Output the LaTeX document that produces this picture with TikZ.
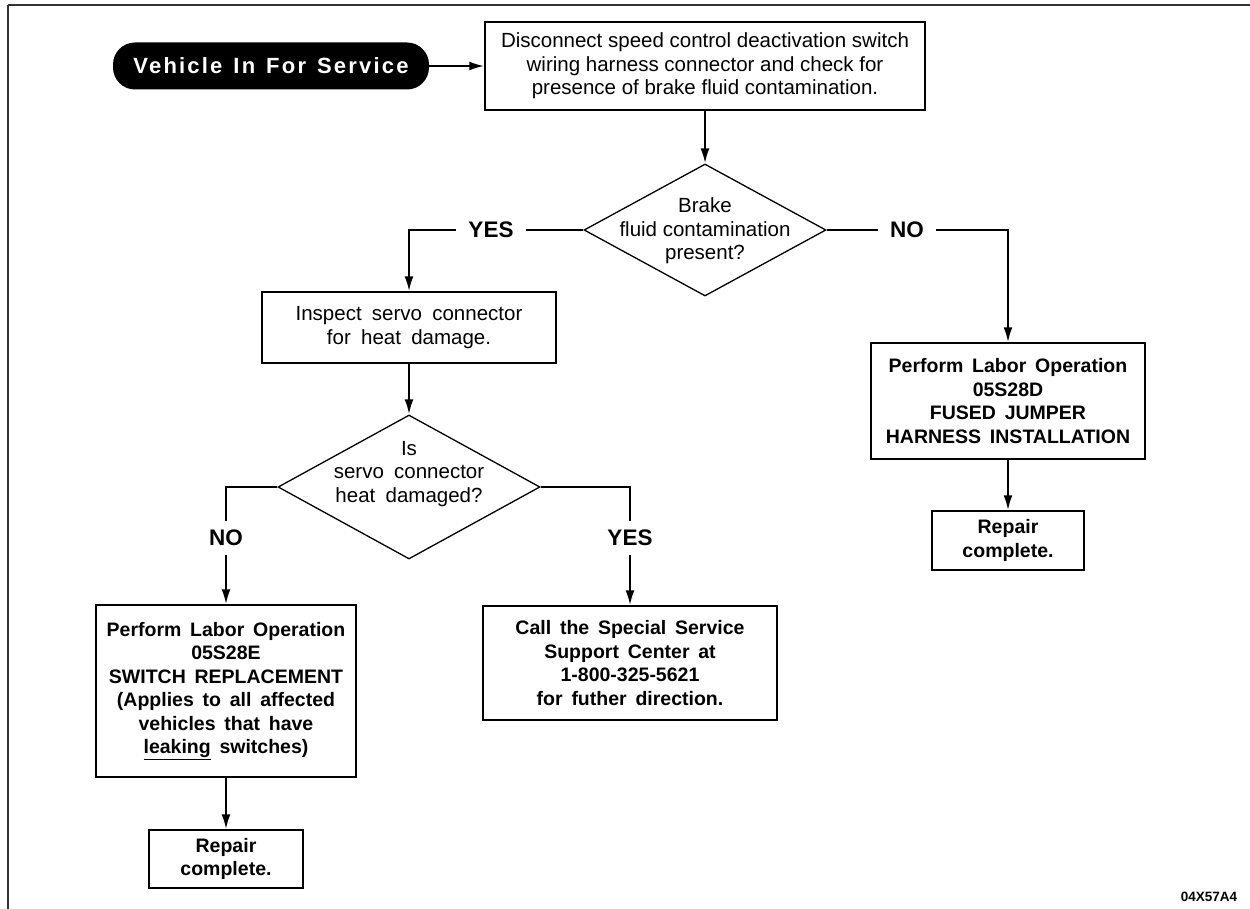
\documentclass[tikz,border=0pt]{standalone}
\usepackage{fontspec}
\setmainfont{Liberation Sans}
\newfontfamily\pillfont{Liberation Sans}[LetterSpace=10]
\usetikzlibrary{shapes.geometric,arrows.meta}
\newcommand\regf{\fontsize{20.5}{23.5}\selectfont}
\newcommand\widef{\fontsize{20.5}{23.5}\selectfont\spaceskip=0.5em plus 0.1em\relax}
\newcommand\boldf{\fontsize{19.5}{23.5}\selectfont\bfseries\spaceskip=0.45em plus 0.1em\relax}
\newcommand\lblf{\fontsize{22.5}{26}\selectfont\bfseries}
\newcommand\pillf{\fontsize{22}{25}\selectfont\pillfont\bfseries\spaceskip=0.5em plus 0.1em\relax}
\begin{document}
\begin{tikzpicture}[x=1pt,y=-1pt,
  every node/.style={inner sep=0pt},
  procbox/.style={draw=black, line width=1.4pt, align=center, font=\regf},
  widebox/.style={draw=black, line width=1.4pt, align=center, font=\widef},
  boldbox/.style={draw=black, line width=1.4pt, align=center, font=\boldf},
  decbox/.style={draw=black, line width=1.3pt, diamond, inner sep=0pt},
  dectext/.style={align=center, font=\regf},
  widetext/.style={align=center, font=\widef},
  branch/.style={font=\lblf, inner xsep=12pt, inner ysep=9pt},
  flow/.style={line width=2.2pt, -{Latex[length=15pt,width=9pt]}},
  link/.style={line width=1.6pt},
]
\useasboundingbox (0,0) rectangle (1250,909);
% frame
\draw[line width=1.8pt, black!80] (8,5) -- (1250,5);
\draw[line width=1.8pt, black!80] (8,5) -- (8,909);

% nodes
\node[fill=black, rounded corners=22pt, minimum width=316pt, minimum height=47pt,
      text=white, font=\pillf] (start) at (271,66) {Vehicle In For Service};
\node[procbox, minimum width=440pt, minimum height=88pt] (box1) at (705,66)
  {Disconnect speed control deactivation switch\\wiring harness connector and check for\\presence of brake fluid contamination.};
\node[decbox, minimum width=242pt, minimum height=132pt] (d1) at (705,230) {};
\node[dectext] (t1) at (705,231) {Brake\\fluid contamination\\present?};
\node[branch] (yes1) at (491,230) {YES};
\node[branch] (no1) at (907,230) {NO};

\node[widebox, minimum width=294pt, minimum height=71pt] (insp) at (409,327.5)
  {Inspect servo connector\\for heat damage.};
\node[decbox, minimum width=262pt, minimum height=144pt] (d2) at (409,487) {};
\node[widetext] (t2) at (409,474) {Is\\servo connector\\heat damaged?};
\node[branch] (no2) at (226,538) {NO};
\node[branch] (yes2) at (630,538) {YES};

\node[boldbox, minimum width=274pt, minimum height=116pt] (rbox) at (1008,401)
  {Perform Labor Operation\\05S28D\\FUSED JUMPER\\HARNESS INSTALLATION};
\node[boldbox, minimum width=152pt, minimum height=59pt] (rrep) at (1008,540.5)
  {Repair\\complete.};
\node[boldbox, minimum width=260pt, minimum height=172pt] (lbox) at (226,691)
  {Perform Labor Operation\\05S28E\\SWITCH REPLACEMENT\\(Applies to all affected\\vehicles that have\\\underline{leaking} switches)};
\node[boldbox, minimum width=154pt, minimum height=58pt] (lrep) at (226,859)
  {Repair\\complete.};
\node[boldbox, minimum width=294pt, minimum height=114pt] (call) at (630,663)
  {Call the Special Service\\Support Center at\\1-800-325-5621\\for futher direction.};
\node[font=\fontsize{13.5}{16}\selectfont\bfseries] (code) at (1209,897) {04X57A4};

% connectors
\draw[flow] (start.east) -- (box1.west);
\draw[flow] (box1.south) -- (d1.north);
\draw[link] (d1.west) -- (yes1.east);
\draw[flow] (yes1.west) -| (insp.north);
\draw[link] (d1.east) -- (no1.west);
\draw[flow] (no1.east) -| (rbox.north);
\draw[flow] (insp.south) -- (d2.north);
\draw[link] (d2.west) -| (no2.north);
\draw[flow] (no2.south) -- (lbox.north);
\draw[link] (d2.east) -| (yes2.north);
\draw[flow] (yes2.south) -- (call.north);
\draw[flow] (rbox.south) -- (rrep.north);
\draw[flow] (lbox.south) -- (lrep.north);
\end{tikzpicture}
\end{document}
